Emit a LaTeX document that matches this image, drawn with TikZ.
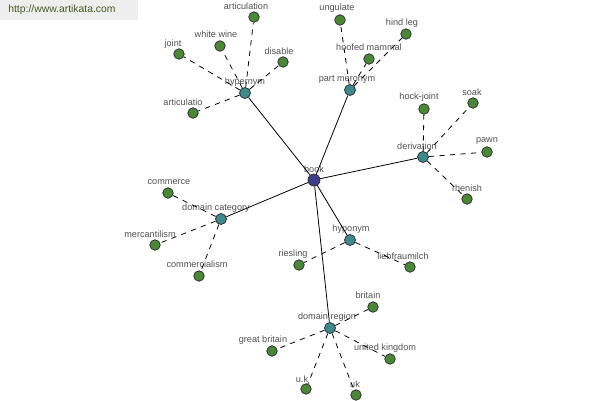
\documentclass[tikz,border=0pt]{standalone}
\usepackage{fontspec}
\setmainfont{Liberation Sans}
\definecolor{hubBlue}{RGB}{62,62,140}
\definecolor{relTeal}{RGB}{62,138,140}
\definecolor{leafGreen}{RGB}{74,136,56}
\definecolor{labelGray}{RGB}{80,80,80}
\definecolor{markGreen}{RGB}{72,88,36}
\tikzset{
  dot/.style={circle, draw=black!85, line width=0.4pt, inner sep=0pt},
  hub/.style={dot, fill=hubBlue, minimum size=0.24cm},
  rel/.style={dot, fill=relTeal, minimum size=0.22cm},
  leaf/.style={dot, fill=leafGreen, minimum size=0.21cm},
  lbl/.style={text=labelGray, font=\fontsize{5.2}{6}\selectfont, inner sep=0pt},
  tie/.style={line width=0.45pt},
  loose/.style={line width=0.45pt, dash pattern=on 3pt off 3pt},
}

\begin{document}
\begin{tikzpicture}[x=0.02cm, y=-0.02cm]
  \useasboundingbox (0,0) rectangle (600,400);
  % site banner
  \fill[gray!13] (0,0) rectangle (138,20);
  \node[anchor=west, inner sep=0pt, text=markGreen, font=\fontsize{5.9}{7}\selectfont] (site) at (8,10) {http://www.artikata.com};

  % centre word
  \node[hub] (book) at (314,180) {};
  \node[lbl] (book-t) at (314,169) {book};

  % relation nodes
  \foreach \n/\x/\y/\lx/\ly/\t in {
      hyper/245/93/245/82/hypernym,
      part/350/90/347/79/part meronym,
      deriv/423/157/417/146/derivation,
      domcat/221/219/216/208/domain category,
      hypo/350/240/351/229/hyponym,
      domreg/330/328/327/317/domain region}
  {
    \node[rel] (\n) at (\x,\y) {};
    \node[lbl] (\n-t) at (\lx,\ly) {\t};
    \draw[tie] (book) -- (\n);
  }

  % related words
  \foreach \n/\p/\x/\y/\lx/\ly/\t in {
      articulation/hyper/254/17/246/6/articulation,
      whitewine/hyper/220/46/216/34/white wine,
      joint/hyper/179/54/173/44/joint,
      disable/hyper/283/62/279/51/disable,
      articulatio/hyper/193/113/183/102/articulatio,
      ungulate/part/340/20/337/8/ungulate,
      hindleg/part/406/34/402/23/hind leg,
      hoofed/part/369/59/369/47/hoofed mammal,
      hockjoint/deriv/424/109/419/97/hock-joint,
      soak/deriv/473/103/472/92/soak,
      pawn/deriv/487/152/487/141/pawn,
      rhenish/deriv/467/199/467/188/rhenish,
      commerce/domcat/168/193/169/182/commerce,
      mercantilism/domcat/155/245/150/234/mercantilism,
      commercialism/domcat/199/276/197/264/commercialism,
      riesling/hypo/299/265/293/254/riesling,
      liebfraumilch/hypo/410/267/403/256/liebfraumilch,
      britain/domreg/373/307/368/295/britain,
      greatbritain/domreg/272/351/263/340/great britain,
      unitedkingdom/domreg/390/359/385/348/united kingdom,
      udotk/domreg/306/389/302/379/u.k,
      uk/domreg/356/395/355/384/uk}
  {
    \node[leaf] (\n) at (\x,\y) {};
    \node[lbl] (\n-t) at (\lx,\ly) {\t};
    \draw[loose] (\p) -- (\n);
  }
\end{tikzpicture}
\end{document}
